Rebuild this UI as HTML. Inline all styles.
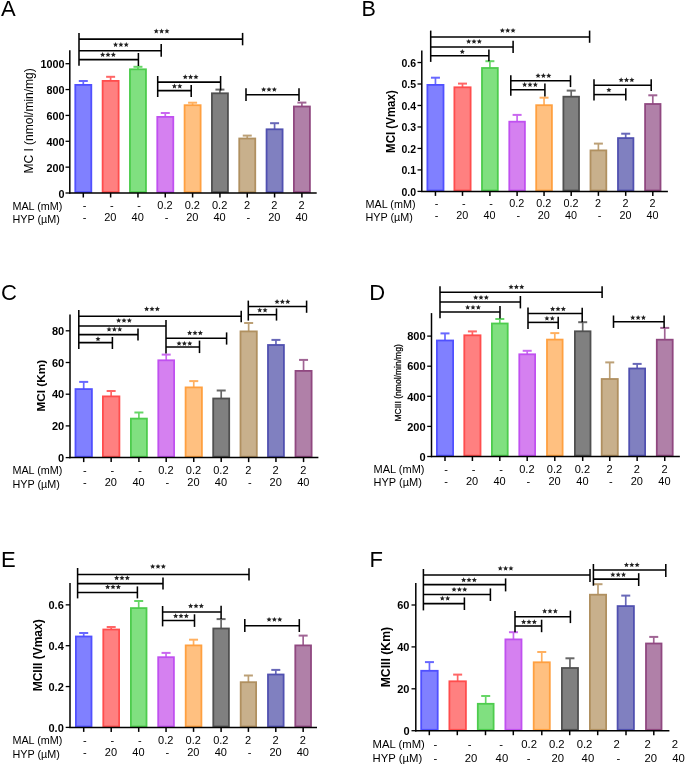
<!DOCTYPE html>
<html><head><meta charset="utf-8"><style>
html,body{margin:0;padding:0;background:#fff;width:685px;height:765px;overflow:hidden}
svg{display:block;filter:blur(0.3px)}
text{font-family:'Liberation Sans', sans-serif;fill:#000}
</style></head><body>
<svg width="685" height="765" viewBox="0 0 685 765">
<line x1="83.30" y1="81.00" x2="83.30" y2="85.00" stroke="#6868ff" stroke-width="1.7"/>
<line x1="78.80" y1="81.00" x2="87.80" y2="81.00" stroke="#6868ff" stroke-width="2.0"/>
<rect x="75.30" y="84.90" width="16.00" height="107.20" fill="#8080ff" stroke="#5050ff" stroke-width="1.8"/>
<line x1="110.62" y1="76.80" x2="110.62" y2="81.00" stroke="#ff6666" stroke-width="1.7"/>
<line x1="106.12" y1="76.80" x2="115.12" y2="76.80" stroke="#ff6666" stroke-width="2.0"/>
<rect x="102.63" y="80.90" width="16.00" height="111.20" fill="#ff8080" stroke="#ff4d4d" stroke-width="1.8"/>
<line x1="137.95" y1="66.80" x2="137.95" y2="69.40" stroke="#66d666" stroke-width="1.7"/>
<line x1="133.45" y1="66.80" x2="142.45" y2="66.80" stroke="#66d666" stroke-width="2.0"/>
<rect x="129.95" y="69.30" width="16.00" height="122.80" fill="#80e080" stroke="#4dcc4d" stroke-width="1.8"/>
<line x1="165.28" y1="113.00" x2="165.28" y2="117.00" stroke="#ca68f0" stroke-width="1.7"/>
<line x1="160.78" y1="113.00" x2="169.78" y2="113.00" stroke="#ca68f0" stroke-width="2.0"/>
<rect x="157.28" y="116.90" width="16.00" height="75.20" fill="#d580f0" stroke="#c050f0" stroke-width="1.8"/>
<line x1="192.60" y1="102.70" x2="192.60" y2="105.30" stroke="#ffb060" stroke-width="1.7"/>
<line x1="188.10" y1="102.70" x2="197.10" y2="102.70" stroke="#ffb060" stroke-width="2.0"/>
<rect x="184.60" y="105.20" width="16.00" height="86.90" fill="#ffc080" stroke="#ffa040" stroke-width="1.8"/>
<line x1="219.93" y1="89.60" x2="219.93" y2="93.40" stroke="#686868" stroke-width="1.7"/>
<line x1="215.43" y1="89.60" x2="224.43" y2="89.60" stroke="#686868" stroke-width="2.0"/>
<rect x="211.93" y="93.30" width="16.00" height="98.80" fill="#808080" stroke="#505050" stroke-width="1.8"/>
<line x1="247.25" y1="135.60" x2="247.25" y2="138.60" stroke="#bca076" stroke-width="1.7"/>
<line x1="242.75" y1="135.60" x2="251.75" y2="135.60" stroke="#bca076" stroke-width="2.0"/>
<rect x="239.25" y="138.50" width="16.00" height="53.60" fill="#c8b08c" stroke="#b09060" stroke-width="1.8"/>
<line x1="274.58" y1="123.20" x2="274.58" y2="129.40" stroke="#6868b8" stroke-width="1.7"/>
<line x1="270.08" y1="123.20" x2="279.08" y2="123.20" stroke="#6868b8" stroke-width="2.0"/>
<rect x="266.57" y="129.30" width="16.00" height="62.80" fill="#8080c0" stroke="#5050b0" stroke-width="1.8"/>
<line x1="301.90" y1="102.60" x2="301.90" y2="106.60" stroke="#a06494" stroke-width="1.7"/>
<line x1="297.40" y1="102.60" x2="306.40" y2="102.60" stroke="#a06494" stroke-width="2.0"/>
<rect x="293.90" y="106.50" width="16.00" height="85.60" fill="#b080a8" stroke="#904880" stroke-width="1.8"/>
<line x1="69.80" y1="50.20" x2="69.80" y2="193.70" stroke="#000" stroke-width="1.5"/>
<line x1="69.10" y1="193.00" x2="316.70" y2="193.00" stroke="#000" stroke-width="1.5"/>
<line x1="65.50" y1="193.00" x2="69.80" y2="193.00" stroke="#000" stroke-width="1.3"/>
<text x="64.60" y="197.50" font-size="10.8" text-anchor="end" font-weight="bold">0</text>
<line x1="65.50" y1="167.14" x2="69.80" y2="167.14" stroke="#000" stroke-width="1.3"/>
<text x="64.60" y="171.64" font-size="10.8" text-anchor="end" font-weight="bold">200</text>
<line x1="65.50" y1="141.28" x2="69.80" y2="141.28" stroke="#000" stroke-width="1.3"/>
<text x="64.60" y="145.78" font-size="10.8" text-anchor="end" font-weight="bold">400</text>
<line x1="65.50" y1="115.42" x2="69.80" y2="115.42" stroke="#000" stroke-width="1.3"/>
<text x="64.60" y="119.92" font-size="10.8" text-anchor="end" font-weight="bold">600</text>
<line x1="65.50" y1="89.56" x2="69.80" y2="89.56" stroke="#000" stroke-width="1.3"/>
<text x="64.60" y="94.06" font-size="10.8" text-anchor="end" font-weight="bold">800</text>
<line x1="65.50" y1="63.70" x2="69.80" y2="63.70" stroke="#000" stroke-width="1.3"/>
<text x="64.60" y="68.20" font-size="10.8" text-anchor="end" font-weight="bold">1000</text>
<line x1="83.30" y1="193.00" x2="83.30" y2="197.50" stroke="#000" stroke-width="1.5"/>
<line x1="110.62" y1="193.00" x2="110.62" y2="197.50" stroke="#000" stroke-width="1.5"/>
<line x1="137.95" y1="193.00" x2="137.95" y2="197.50" stroke="#000" stroke-width="1.5"/>
<line x1="165.28" y1="193.00" x2="165.28" y2="197.50" stroke="#000" stroke-width="1.5"/>
<line x1="192.60" y1="193.00" x2="192.60" y2="197.50" stroke="#000" stroke-width="1.5"/>
<line x1="219.93" y1="193.00" x2="219.93" y2="197.50" stroke="#000" stroke-width="1.5"/>
<line x1="247.25" y1="193.00" x2="247.25" y2="197.50" stroke="#000" stroke-width="1.5"/>
<line x1="274.58" y1="193.00" x2="274.58" y2="197.50" stroke="#000" stroke-width="1.5"/>
<line x1="301.90" y1="193.00" x2="301.90" y2="197.50" stroke="#000" stroke-width="1.5"/>
<line x1="79.00" y1="39.10" x2="242.60" y2="39.10" stroke="#000" stroke-width="1.55"/>
<line x1="242.60" y1="32.90" x2="242.60" y2="45.30" stroke="#000" stroke-width="1.55"/>
<polygon points="156.25,28.50 156.98,30.19 158.82,30.37 157.44,31.59 157.84,33.38 156.25,32.45 154.66,33.38 155.06,31.59 153.68,30.37 155.52,30.19" fill="#222"/>
<polygon points="161.60,28.50 162.33,30.19 164.17,30.37 162.79,31.59 163.19,33.38 161.60,32.45 160.01,33.38 160.41,31.59 159.03,30.37 160.87,30.19" fill="#222"/>
<polygon points="166.95,28.50 167.68,30.19 169.52,30.37 168.14,31.59 168.54,33.38 166.95,32.45 165.36,33.38 165.76,31.59 164.38,30.37 166.22,30.19" fill="#222"/>
<line x1="79.00" y1="50.70" x2="161.20" y2="50.70" stroke="#000" stroke-width="1.55"/>
<line x1="161.20" y1="44.10" x2="161.20" y2="56.80" stroke="#000" stroke-width="1.55"/>
<polygon points="115.55,42.00 116.28,43.69 118.12,43.87 116.74,45.09 117.14,46.88 115.55,45.95 113.96,46.88 114.36,45.09 112.98,43.87 114.82,43.69" fill="#222"/>
<polygon points="120.90,42.00 121.63,43.69 123.47,43.87 122.09,45.09 122.49,46.88 120.90,45.95 119.31,46.88 119.71,45.09 118.33,43.87 120.17,43.69" fill="#222"/>
<polygon points="126.25,42.00 126.98,43.69 128.82,43.87 127.44,45.09 127.84,46.88 126.25,45.95 124.66,46.88 125.06,45.09 123.68,43.87 125.52,43.69" fill="#222"/>
<line x1="79.00" y1="59.60" x2="138.40" y2="59.60" stroke="#000" stroke-width="1.55"/>
<line x1="138.40" y1="53.00" x2="138.40" y2="66.00" stroke="#000" stroke-width="1.55"/>
<polygon points="102.65,52.10 103.38,53.79 105.22,53.97 103.84,55.19 104.24,56.98 102.65,56.05 101.06,56.98 101.46,55.19 100.08,53.97 101.92,53.79" fill="#222"/>
<polygon points="108.00,52.10 108.73,53.79 110.57,53.97 109.19,55.19 109.59,56.98 108.00,56.05 106.41,56.98 106.81,55.19 105.43,53.97 107.27,53.79" fill="#222"/>
<polygon points="113.35,52.10 114.08,53.79 115.92,53.97 114.54,55.19 114.94,56.98 113.35,56.05 111.76,56.98 112.16,55.19 110.78,53.97 112.62,53.79" fill="#222"/>
<line x1="157.70" y1="82.10" x2="220.60" y2="82.10" stroke="#000" stroke-width="1.55"/>
<line x1="220.60" y1="76.00" x2="220.60" y2="90.50" stroke="#000" stroke-width="1.55"/>
<polygon points="185.25,74.30 185.98,75.99 187.82,76.17 186.44,77.39 186.84,79.18 185.25,78.25 183.66,79.18 184.06,77.39 182.68,76.17 184.52,75.99" fill="#222"/>
<polygon points="190.60,74.30 191.33,75.99 193.17,76.17 191.79,77.39 192.19,79.18 190.60,78.25 189.01,79.18 189.41,77.39 188.03,76.17 189.87,75.99" fill="#222"/>
<polygon points="195.95,74.30 196.68,75.99 198.52,76.17 197.14,77.39 197.54,79.18 195.95,78.25 194.36,79.18 194.76,77.39 193.38,76.17 195.22,75.99" fill="#222"/>
<line x1="157.70" y1="90.60" x2="191.20" y2="90.60" stroke="#000" stroke-width="1.55"/>
<line x1="191.20" y1="85.00" x2="191.20" y2="97.00" stroke="#000" stroke-width="1.55"/>
<polygon points="174.42,83.50 175.16,85.19 176.99,85.37 175.61,86.59 176.01,88.38 174.42,87.45 172.84,88.38 173.24,86.59 171.86,85.37 173.69,85.19" fill="#222"/>
<polygon points="179.77,83.50 180.51,85.19 182.34,85.37 180.96,86.59 181.36,88.38 179.77,87.45 178.19,88.38 178.59,86.59 177.21,85.37 179.04,85.19" fill="#222"/>
<line x1="246.00" y1="94.80" x2="299.00" y2="94.80" stroke="#000" stroke-width="1.55"/>
<line x1="299.00" y1="88.20" x2="299.00" y2="100.90" stroke="#000" stroke-width="1.55"/>
<polygon points="263.65,86.90 264.38,88.59 266.22,88.77 264.84,89.99 265.24,91.78 263.65,90.85 262.06,91.78 262.46,89.99 261.08,88.77 262.92,88.59" fill="#222"/>
<polygon points="269.00,86.90 269.73,88.59 271.57,88.77 270.19,89.99 270.59,91.78 269.00,90.85 267.41,91.78 267.81,89.99 266.43,88.77 268.27,88.59" fill="#222"/>
<polygon points="274.35,86.90 275.08,88.59 276.92,88.77 275.54,89.99 275.94,91.78 274.35,90.85 272.76,91.78 273.16,89.99 271.78,88.77 273.62,88.59" fill="#222"/>
<line x1="79.00" y1="33.10" x2="79.00" y2="65.70" stroke="#000" stroke-width="1.55"/>
<line x1="157.70" y1="76.00" x2="157.70" y2="97.00" stroke="#000" stroke-width="1.55"/>
<line x1="246.00" y1="88.20" x2="246.00" y2="100.90" stroke="#000" stroke-width="1.55"/>
<text transform="translate(32.80,120.90) rotate(-90) scale(0.985,1)" font-size="12.2" text-anchor="middle">MC I (nmol/min/mg)</text>
<text x="1.00" y="16.30" font-size="22" text-anchor="start">A</text>
<text x="12.40" y="210.00" font-size="10.8" text-anchor="start">MAL (mM)</text>
<text x="12.40" y="222.50" font-size="10.8" text-anchor="start">HYP (&#181;M)</text>
<text x="84.50" y="209.20" font-size="11" text-anchor="middle">-</text>
<text x="84.50" y="221.40" font-size="11" text-anchor="middle">-</text>
<text x="111.83" y="209.20" font-size="11" text-anchor="middle">-</text>
<text x="110.33" y="221.40" font-size="11" text-anchor="middle">20</text>
<text x="139.15" y="209.20" font-size="11" text-anchor="middle">-</text>
<text x="137.65" y="221.40" font-size="11" text-anchor="middle">40</text>
<text x="164.97" y="209.20" font-size="11" text-anchor="middle">0.2</text>
<text x="166.47" y="221.40" font-size="11" text-anchor="middle">-</text>
<text x="192.30" y="209.20" font-size="11" text-anchor="middle">0.2</text>
<text x="192.30" y="221.40" font-size="11" text-anchor="middle">20</text>
<text x="219.62" y="209.20" font-size="11" text-anchor="middle">0.2</text>
<text x="219.62" y="221.40" font-size="11" text-anchor="middle">40</text>
<text x="246.95" y="209.20" font-size="11" text-anchor="middle">2</text>
<text x="248.45" y="221.40" font-size="11" text-anchor="middle">-</text>
<text x="274.28" y="209.20" font-size="11" text-anchor="middle">2</text>
<text x="274.28" y="221.40" font-size="11" text-anchor="middle">20</text>
<text x="301.60" y="209.20" font-size="11" text-anchor="middle">2</text>
<text x="301.60" y="221.40" font-size="11" text-anchor="middle">40</text>
<line x1="435.45" y1="77.70" x2="435.45" y2="85.00" stroke="#6868ff" stroke-width="1.7"/>
<line x1="430.95" y1="77.70" x2="439.95" y2="77.70" stroke="#6868ff" stroke-width="2.0"/>
<rect x="427.40" y="84.90" width="16.10" height="105.60" fill="#8080ff" stroke="#5050ff" stroke-width="1.8"/>
<line x1="462.50" y1="83.60" x2="462.50" y2="87.40" stroke="#ff6666" stroke-width="1.7"/>
<line x1="458.00" y1="83.60" x2="467.00" y2="83.60" stroke="#ff6666" stroke-width="2.0"/>
<rect x="454.40" y="87.30" width="16.20" height="103.20" fill="#ff8080" stroke="#ff4d4d" stroke-width="1.8"/>
<line x1="489.90" y1="61.20" x2="489.90" y2="68.10" stroke="#66d666" stroke-width="1.7"/>
<line x1="485.40" y1="61.20" x2="494.40" y2="61.20" stroke="#66d666" stroke-width="2.0"/>
<rect x="482.00" y="68.00" width="15.80" height="122.50" fill="#80e080" stroke="#4dcc4d" stroke-width="1.8"/>
<line x1="517.10" y1="114.90" x2="517.10" y2="121.80" stroke="#ca68f0" stroke-width="1.7"/>
<line x1="512.60" y1="114.90" x2="521.60" y2="114.90" stroke="#ca68f0" stroke-width="2.0"/>
<rect x="509.30" y="121.70" width="15.60" height="68.80" fill="#d580f0" stroke="#c050f0" stroke-width="1.8"/>
<line x1="544.05" y1="97.70" x2="544.05" y2="105.30" stroke="#ffb060" stroke-width="1.7"/>
<line x1="539.55" y1="97.70" x2="548.55" y2="97.70" stroke="#ffb060" stroke-width="2.0"/>
<rect x="536.20" y="105.20" width="15.70" height="85.30" fill="#ffc080" stroke="#ffa040" stroke-width="1.8"/>
<line x1="571.20" y1="90.60" x2="571.20" y2="96.80" stroke="#686868" stroke-width="1.7"/>
<line x1="566.70" y1="90.60" x2="575.70" y2="90.60" stroke="#686868" stroke-width="2.0"/>
<rect x="563.40" y="96.70" width="15.60" height="93.80" fill="#808080" stroke="#505050" stroke-width="1.8"/>
<line x1="598.40" y1="143.60" x2="598.40" y2="150.50" stroke="#bca076" stroke-width="1.7"/>
<line x1="593.90" y1="143.60" x2="602.90" y2="143.60" stroke="#bca076" stroke-width="2.0"/>
<rect x="590.50" y="150.40" width="15.80" height="40.10" fill="#c8b08c" stroke="#b09060" stroke-width="1.8"/>
<line x1="625.70" y1="133.70" x2="625.70" y2="138.20" stroke="#6868b8" stroke-width="1.7"/>
<line x1="621.20" y1="133.70" x2="630.20" y2="133.70" stroke="#6868b8" stroke-width="2.0"/>
<rect x="618.00" y="138.10" width="15.40" height="52.40" fill="#8080c0" stroke="#5050b0" stroke-width="1.8"/>
<line x1="652.80" y1="95.30" x2="652.80" y2="104.10" stroke="#a06494" stroke-width="1.7"/>
<line x1="648.30" y1="95.30" x2="657.30" y2="95.30" stroke="#a06494" stroke-width="2.0"/>
<rect x="645.10" y="104.00" width="15.40" height="86.50" fill="#b080a8" stroke="#904880" stroke-width="1.8"/>
<line x1="421.80" y1="50.60" x2="421.80" y2="192.10" stroke="#000" stroke-width="1.5"/>
<line x1="421.10" y1="191.40" x2="667.90" y2="191.40" stroke="#000" stroke-width="1.5"/>
<line x1="417.50" y1="191.40" x2="421.80" y2="191.40" stroke="#000" stroke-width="1.3"/>
<text x="416.00" y="195.60" font-size="10.5" text-anchor="end" font-weight="bold">0.0</text>
<line x1="417.50" y1="169.92" x2="421.80" y2="169.92" stroke="#000" stroke-width="1.3"/>
<text x="416.00" y="174.12" font-size="10.5" text-anchor="end" font-weight="bold">0.1</text>
<line x1="417.50" y1="148.44" x2="421.80" y2="148.44" stroke="#000" stroke-width="1.3"/>
<text x="416.00" y="152.64" font-size="10.5" text-anchor="end" font-weight="bold">0.2</text>
<line x1="417.50" y1="126.96" x2="421.80" y2="126.96" stroke="#000" stroke-width="1.3"/>
<text x="416.00" y="131.16" font-size="10.5" text-anchor="end" font-weight="bold">0.3</text>
<line x1="417.50" y1="105.48" x2="421.80" y2="105.48" stroke="#000" stroke-width="1.3"/>
<text x="416.00" y="109.68" font-size="10.5" text-anchor="end" font-weight="bold">0.4</text>
<line x1="417.50" y1="84.00" x2="421.80" y2="84.00" stroke="#000" stroke-width="1.3"/>
<text x="416.00" y="88.20" font-size="10.5" text-anchor="end" font-weight="bold">0.5</text>
<line x1="417.50" y1="62.52" x2="421.80" y2="62.52" stroke="#000" stroke-width="1.3"/>
<text x="416.00" y="66.72" font-size="10.5" text-anchor="end" font-weight="bold">0.6</text>
<line x1="435.45" y1="191.40" x2="435.45" y2="195.90" stroke="#000" stroke-width="1.5"/>
<line x1="462.50" y1="191.40" x2="462.50" y2="195.90" stroke="#000" stroke-width="1.5"/>
<line x1="489.90" y1="191.40" x2="489.90" y2="195.90" stroke="#000" stroke-width="1.5"/>
<line x1="517.10" y1="191.40" x2="517.10" y2="195.90" stroke="#000" stroke-width="1.5"/>
<line x1="544.05" y1="191.40" x2="544.05" y2="195.90" stroke="#000" stroke-width="1.5"/>
<line x1="571.20" y1="191.40" x2="571.20" y2="195.90" stroke="#000" stroke-width="1.5"/>
<line x1="598.40" y1="191.40" x2="598.40" y2="195.90" stroke="#000" stroke-width="1.5"/>
<line x1="625.70" y1="191.40" x2="625.70" y2="195.90" stroke="#000" stroke-width="1.5"/>
<line x1="652.80" y1="191.40" x2="652.80" y2="195.90" stroke="#000" stroke-width="1.5"/>
<line x1="430.70" y1="37.00" x2="589.60" y2="37.00" stroke="#000" stroke-width="1.55"/>
<line x1="589.60" y1="30.60" x2="589.60" y2="42.80" stroke="#000" stroke-width="1.55"/>
<polygon points="502.35,27.90 503.08,29.59 504.92,29.77 503.54,30.99 503.94,32.78 502.35,31.85 500.76,32.78 501.16,30.99 499.78,29.77 501.62,29.59" fill="#222"/>
<polygon points="507.70,27.90 508.43,29.59 510.27,29.77 508.89,30.99 509.29,32.78 507.70,31.85 506.11,32.78 506.51,30.99 505.13,29.77 506.97,29.59" fill="#222"/>
<polygon points="513.05,27.90 513.78,29.59 515.62,29.77 514.24,30.99 514.64,32.78 513.05,31.85 511.46,32.78 511.86,30.99 510.48,29.77 512.32,29.59" fill="#222"/>
<line x1="430.70" y1="46.90" x2="513.10" y2="46.90" stroke="#000" stroke-width="1.55"/>
<line x1="513.10" y1="40.70" x2="513.10" y2="53.00" stroke="#000" stroke-width="1.55"/>
<polygon points="468.65,38.90 469.38,40.59 471.22,40.77 469.84,41.99 470.24,43.78 468.65,42.85 467.06,43.78 467.46,41.99 466.08,40.77 467.92,40.59" fill="#222"/>
<polygon points="474.00,38.90 474.73,40.59 476.57,40.77 475.19,41.99 475.59,43.78 474.00,42.85 472.41,43.78 472.81,41.99 471.43,40.77 473.27,40.59" fill="#222"/>
<polygon points="479.35,38.90 480.08,40.59 481.92,40.77 480.54,41.99 480.94,43.78 479.35,42.85 477.76,43.78 478.16,41.99 476.78,40.77 478.62,40.59" fill="#222"/>
<line x1="430.70" y1="55.70" x2="488.90" y2="55.70" stroke="#000" stroke-width="1.55"/>
<line x1="488.90" y1="49.40" x2="488.90" y2="61.20" stroke="#000" stroke-width="1.55"/>
<polygon points="462.30,49.10 463.03,50.79 464.87,50.97 463.49,52.19 463.89,53.98 462.30,53.05 460.71,53.98 461.11,52.19 459.73,50.97 461.57,50.79" fill="#222"/>
<line x1="510.80" y1="80.70" x2="570.50" y2="80.70" stroke="#000" stroke-width="1.55"/>
<line x1="570.50" y1="75.30" x2="570.50" y2="87.10" stroke="#000" stroke-width="1.55"/>
<polygon points="538.05,73.10 538.78,74.79 540.62,74.97 539.24,76.19 539.64,77.98 538.05,77.05 536.46,77.98 536.86,76.19 535.48,74.97 537.32,74.79" fill="#222"/>
<polygon points="543.40,73.10 544.13,74.79 545.97,74.97 544.59,76.19 544.99,77.98 543.40,77.05 541.81,77.98 542.21,76.19 540.83,74.97 542.67,74.79" fill="#222"/>
<polygon points="548.75,73.10 549.48,74.79 551.32,74.97 549.94,76.19 550.34,77.98 548.75,77.05 547.16,77.98 547.56,76.19 546.18,74.97 548.02,74.79" fill="#222"/>
<line x1="510.80" y1="89.70" x2="544.90" y2="89.70" stroke="#000" stroke-width="1.55"/>
<line x1="544.90" y1="83.60" x2="544.90" y2="96.50" stroke="#000" stroke-width="1.55"/>
<polygon points="524.65,82.00 525.38,83.69 527.22,83.87 525.84,85.09 526.24,86.88 524.65,85.95 523.06,86.88 523.46,85.09 522.08,83.87 523.92,83.69" fill="#222"/>
<polygon points="530.00,82.00 530.73,83.69 532.57,83.87 531.19,85.09 531.59,86.88 530.00,85.95 528.41,86.88 528.81,85.09 527.43,83.87 529.27,83.69" fill="#222"/>
<polygon points="535.35,82.00 536.08,83.69 537.92,83.87 536.54,85.09 536.94,86.88 535.35,85.95 533.76,86.88 534.16,85.09 532.78,83.87 534.62,83.69" fill="#222"/>
<line x1="594.00" y1="85.20" x2="651.20" y2="85.20" stroke="#000" stroke-width="1.55"/>
<line x1="651.20" y1="79.30" x2="651.20" y2="91.10" stroke="#000" stroke-width="1.55"/>
<polygon points="621.15,77.30 621.88,78.99 623.72,79.17 622.34,80.39 622.74,82.18 621.15,81.25 619.56,82.18 619.96,80.39 618.58,79.17 620.42,78.99" fill="#222"/>
<polygon points="626.50,77.30 627.23,78.99 629.07,79.17 627.69,80.39 628.09,82.18 626.50,81.25 624.91,82.18 625.31,80.39 623.93,79.17 625.77,78.99" fill="#222"/>
<polygon points="631.85,77.30 632.58,78.99 634.42,79.17 633.04,80.39 633.44,82.18 631.85,81.25 630.26,82.18 630.66,80.39 629.28,79.17 631.12,78.99" fill="#222"/>
<line x1="594.00" y1="94.60" x2="625.80" y2="94.60" stroke="#000" stroke-width="1.55"/>
<line x1="625.80" y1="88.30" x2="625.80" y2="100.50" stroke="#000" stroke-width="1.55"/>
<polygon points="608.90,87.40 609.63,89.09 611.47,89.27 610.09,90.49 610.49,92.28 608.90,91.35 607.31,92.28 607.71,90.49 606.33,89.27 608.17,89.09" fill="#222"/>
<line x1="430.70" y1="30.60" x2="430.70" y2="61.90" stroke="#000" stroke-width="1.55"/>
<line x1="510.80" y1="75.30" x2="510.80" y2="95.80" stroke="#000" stroke-width="1.55"/>
<line x1="594.00" y1="79.30" x2="594.00" y2="100.50" stroke="#000" stroke-width="1.55"/>
<text transform="translate(395.30,121.60) rotate(-90) scale(0.944,1)" font-size="12.2" text-anchor="middle" font-weight="bold">MCI (Vmax)</text>
<text x="361.40" y="15.80" font-size="21.5" text-anchor="start">B</text>
<text x="365.50" y="208.10" font-size="10.8" text-anchor="start">MAL (mM)</text>
<text x="365.50" y="220.90" font-size="10.8" text-anchor="start">HYP (&#181;M)</text>
<text x="436.65" y="206.70" font-size="10.8" text-anchor="middle">-</text>
<text x="436.65" y="218.70" font-size="10.8" text-anchor="middle">-</text>
<text x="463.70" y="206.70" font-size="10.8" text-anchor="middle">-</text>
<text x="462.20" y="218.70" font-size="10.8" text-anchor="middle">20</text>
<text x="491.10" y="206.70" font-size="10.8" text-anchor="middle">-</text>
<text x="489.60" y="218.70" font-size="10.8" text-anchor="middle">40</text>
<text x="516.80" y="206.70" font-size="10.8" text-anchor="middle">0.2</text>
<text x="518.30" y="218.70" font-size="10.8" text-anchor="middle">-</text>
<text x="543.75" y="206.70" font-size="10.8" text-anchor="middle">0.2</text>
<text x="543.75" y="218.70" font-size="10.8" text-anchor="middle">20</text>
<text x="570.90" y="206.70" font-size="10.8" text-anchor="middle">0.2</text>
<text x="570.90" y="218.70" font-size="10.8" text-anchor="middle">40</text>
<text x="598.10" y="206.70" font-size="10.8" text-anchor="middle">2</text>
<text x="599.60" y="218.70" font-size="10.8" text-anchor="middle">-</text>
<text x="625.40" y="206.70" font-size="10.8" text-anchor="middle">2</text>
<text x="625.40" y="218.70" font-size="10.8" text-anchor="middle">20</text>
<text x="652.50" y="206.70" font-size="10.8" text-anchor="middle">2</text>
<text x="652.50" y="218.70" font-size="10.8" text-anchor="middle">40</text>
<line x1="83.70" y1="381.90" x2="83.70" y2="389.20" stroke="#6868ff" stroke-width="1.7"/>
<line x1="79.20" y1="381.90" x2="88.20" y2="381.90" stroke="#6868ff" stroke-width="2.0"/>
<rect x="75.50" y="389.10" width="16.40" height="67.60" fill="#8080ff" stroke="#5050ff" stroke-width="1.8"/>
<line x1="111.15" y1="391.00" x2="111.15" y2="396.50" stroke="#ff6666" stroke-width="1.7"/>
<line x1="106.65" y1="391.00" x2="115.65" y2="391.00" stroke="#ff6666" stroke-width="2.0"/>
<rect x="102.90" y="396.40" width="16.50" height="60.30" fill="#ff8080" stroke="#ff4d4d" stroke-width="1.8"/>
<line x1="138.90" y1="412.50" x2="138.90" y2="418.70" stroke="#66d666" stroke-width="1.7"/>
<line x1="134.40" y1="412.50" x2="143.40" y2="412.50" stroke="#66d666" stroke-width="2.0"/>
<rect x="130.90" y="418.60" width="16.00" height="38.10" fill="#80e080" stroke="#4dcc4d" stroke-width="1.8"/>
<line x1="166.20" y1="354.60" x2="166.20" y2="360.40" stroke="#ca68f0" stroke-width="1.7"/>
<line x1="161.70" y1="354.60" x2="170.70" y2="354.60" stroke="#ca68f0" stroke-width="2.0"/>
<rect x="158.30" y="360.30" width="15.80" height="96.40" fill="#d580f0" stroke="#c050f0" stroke-width="1.8"/>
<line x1="193.75" y1="381.10" x2="193.75" y2="387.50" stroke="#ffb060" stroke-width="1.7"/>
<line x1="189.25" y1="381.10" x2="198.25" y2="381.10" stroke="#ffb060" stroke-width="2.0"/>
<rect x="185.60" y="387.40" width="16.30" height="69.30" fill="#ffc080" stroke="#ffa040" stroke-width="1.8"/>
<line x1="221.20" y1="390.50" x2="221.20" y2="398.60" stroke="#686868" stroke-width="1.7"/>
<line x1="216.70" y1="390.50" x2="225.70" y2="390.50" stroke="#686868" stroke-width="2.0"/>
<rect x="213.20" y="398.50" width="16.00" height="58.20" fill="#808080" stroke="#505050" stroke-width="1.8"/>
<line x1="248.65" y1="323.00" x2="248.65" y2="331.50" stroke="#bca076" stroke-width="1.7"/>
<line x1="244.15" y1="323.00" x2="253.15" y2="323.00" stroke="#bca076" stroke-width="2.0"/>
<rect x="240.50" y="331.40" width="16.30" height="125.30" fill="#c8b08c" stroke="#b09060" stroke-width="1.8"/>
<line x1="275.95" y1="339.90" x2="275.95" y2="345.10" stroke="#6868b8" stroke-width="1.7"/>
<line x1="271.45" y1="339.90" x2="280.45" y2="339.90" stroke="#6868b8" stroke-width="2.0"/>
<rect x="268.00" y="345.00" width="15.90" height="111.70" fill="#8080c0" stroke="#5050b0" stroke-width="1.8"/>
<line x1="303.55" y1="359.90" x2="303.55" y2="371.00" stroke="#a06494" stroke-width="1.7"/>
<line x1="299.05" y1="359.90" x2="308.05" y2="359.90" stroke="#a06494" stroke-width="2.0"/>
<rect x="295.50" y="370.90" width="16.10" height="85.80" fill="#b080a8" stroke="#904880" stroke-width="1.8"/>
<line x1="70.00" y1="314.40" x2="70.00" y2="458.30" stroke="#000" stroke-width="1.5"/>
<line x1="69.30" y1="457.60" x2="318.40" y2="457.60" stroke="#000" stroke-width="1.5"/>
<line x1="65.70" y1="457.60" x2="70.00" y2="457.60" stroke="#000" stroke-width="1.3"/>
<text x="64.20" y="461.80" font-size="11" text-anchor="end" font-weight="bold">0</text>
<line x1="65.70" y1="425.90" x2="70.00" y2="425.90" stroke="#000" stroke-width="1.3"/>
<text x="64.20" y="430.10" font-size="11" text-anchor="end" font-weight="bold">20</text>
<line x1="65.70" y1="394.20" x2="70.00" y2="394.20" stroke="#000" stroke-width="1.3"/>
<text x="64.20" y="398.40" font-size="11" text-anchor="end" font-weight="bold">40</text>
<line x1="65.70" y1="362.50" x2="70.00" y2="362.50" stroke="#000" stroke-width="1.3"/>
<text x="64.20" y="366.70" font-size="11" text-anchor="end" font-weight="bold">60</text>
<line x1="65.70" y1="330.80" x2="70.00" y2="330.80" stroke="#000" stroke-width="1.3"/>
<text x="64.20" y="335.00" font-size="11" text-anchor="end" font-weight="bold">80</text>
<line x1="83.70" y1="457.60" x2="83.70" y2="462.10" stroke="#000" stroke-width="1.5"/>
<line x1="111.15" y1="457.60" x2="111.15" y2="462.10" stroke="#000" stroke-width="1.5"/>
<line x1="138.90" y1="457.60" x2="138.90" y2="462.10" stroke="#000" stroke-width="1.5"/>
<line x1="166.20" y1="457.60" x2="166.20" y2="462.10" stroke="#000" stroke-width="1.5"/>
<line x1="193.75" y1="457.60" x2="193.75" y2="462.10" stroke="#000" stroke-width="1.5"/>
<line x1="221.20" y1="457.60" x2="221.20" y2="462.10" stroke="#000" stroke-width="1.5"/>
<line x1="248.65" y1="457.60" x2="248.65" y2="462.10" stroke="#000" stroke-width="1.5"/>
<line x1="275.95" y1="457.60" x2="275.95" y2="462.10" stroke="#000" stroke-width="1.5"/>
<line x1="303.55" y1="457.60" x2="303.55" y2="462.10" stroke="#000" stroke-width="1.5"/>
<line x1="78.80" y1="316.30" x2="241.20" y2="316.30" stroke="#000" stroke-width="1.55"/>
<line x1="241.20" y1="310.70" x2="241.20" y2="322.30" stroke="#000" stroke-width="1.55"/>
<polygon points="146.65,306.30 147.38,307.99 149.22,308.17 147.84,309.39 148.24,311.18 146.65,310.25 145.06,311.18 145.46,309.39 144.08,308.17 145.92,307.99" fill="#222"/>
<polygon points="152.00,306.30 152.73,307.99 154.57,308.17 153.19,309.39 153.59,311.18 152.00,310.25 150.41,311.18 150.81,309.39 149.43,308.17 151.27,307.99" fill="#222"/>
<polygon points="157.35,306.30 158.08,307.99 159.92,308.17 158.54,309.39 158.94,311.18 157.35,310.25 155.76,311.18 156.16,309.39 154.78,308.17 156.62,307.99" fill="#222"/>
<line x1="78.80" y1="326.00" x2="166.00" y2="326.00" stroke="#000" stroke-width="1.55"/>
<polygon points="118.65,317.90 119.38,319.59 121.22,319.77 119.84,320.99 120.24,322.78 118.65,321.85 117.06,322.78 117.46,320.99 116.08,319.77 117.92,319.59" fill="#222"/>
<polygon points="124.00,317.90 124.73,319.59 126.57,319.77 125.19,320.99 125.59,322.78 124.00,321.85 122.41,322.78 122.81,320.99 121.43,319.77 123.27,319.59" fill="#222"/>
<polygon points="129.35,317.90 130.08,319.59 131.92,319.77 130.54,320.99 130.94,322.78 129.35,321.85 127.76,322.78 128.16,320.99 126.78,319.77 128.62,319.59" fill="#222"/>
<line x1="78.80" y1="334.60" x2="138.00" y2="334.60" stroke="#000" stroke-width="1.55"/>
<line x1="138.00" y1="328.60" x2="138.00" y2="340.60" stroke="#000" stroke-width="1.55"/>
<polygon points="109.05,326.70 109.78,328.39 111.62,328.57 110.24,329.79 110.64,331.58 109.05,330.65 107.46,331.58 107.86,329.79 106.48,328.57 108.32,328.39" fill="#222"/>
<polygon points="114.40,326.70 115.13,328.39 116.97,328.57 115.59,329.79 115.99,331.58 114.40,330.65 112.81,331.58 113.21,329.79 111.83,328.57 113.67,328.39" fill="#222"/>
<polygon points="119.75,326.70 120.48,328.39 122.32,328.57 120.94,329.79 121.34,331.58 119.75,330.65 118.16,331.58 118.56,329.79 117.18,328.57 119.02,328.39" fill="#222"/>
<line x1="78.80" y1="342.60" x2="112.40" y2="342.60" stroke="#000" stroke-width="1.55"/>
<line x1="112.40" y1="337.00" x2="112.40" y2="349.00" stroke="#000" stroke-width="1.55"/>
<polygon points="98.00,336.30 98.73,337.99 100.57,338.17 99.19,339.39 99.59,341.18 98.00,340.25 96.41,341.18 96.81,339.39 95.43,338.17 97.27,337.99" fill="#222"/>
<line x1="166.00" y1="338.20" x2="226.60" y2="338.20" stroke="#000" stroke-width="1.55"/>
<line x1="226.60" y1="332.40" x2="226.60" y2="344.60" stroke="#000" stroke-width="1.55"/>
<polygon points="189.65,330.30 190.38,331.99 192.22,332.17 190.84,333.39 191.24,335.18 189.65,334.25 188.06,335.18 188.46,333.39 187.08,332.17 188.92,331.99" fill="#222"/>
<polygon points="195.00,330.30 195.73,331.99 197.57,332.17 196.19,333.39 196.59,335.18 195.00,334.25 193.41,335.18 193.81,333.39 192.43,332.17 194.27,331.99" fill="#222"/>
<polygon points="200.35,330.30 201.08,331.99 202.92,332.17 201.54,333.39 201.94,335.18 200.35,334.25 198.76,335.18 199.16,333.39 197.78,332.17 199.62,331.99" fill="#222"/>
<line x1="166.00" y1="347.00" x2="199.50" y2="347.00" stroke="#000" stroke-width="1.55"/>
<line x1="199.50" y1="340.60" x2="199.50" y2="353.10" stroke="#000" stroke-width="1.55"/>
<polygon points="179.05,340.90 179.78,342.59 181.62,342.77 180.24,343.99 180.64,345.78 179.05,344.85 177.46,345.78 177.86,343.99 176.48,342.77 178.32,342.59" fill="#222"/>
<polygon points="184.40,340.90 185.13,342.59 186.97,342.77 185.59,343.99 185.99,345.78 184.40,344.85 182.81,345.78 183.21,343.99 181.83,342.77 183.67,342.59" fill="#222"/>
<polygon points="189.75,340.90 190.48,342.59 192.32,342.77 190.94,343.99 191.34,345.78 189.75,344.85 188.16,345.78 188.56,343.99 187.18,342.77 189.02,342.59" fill="#222"/>
<line x1="248.30" y1="306.50" x2="306.60" y2="306.50" stroke="#000" stroke-width="1.55"/>
<line x1="306.60" y1="300.60" x2="306.60" y2="312.80" stroke="#000" stroke-width="1.55"/>
<polygon points="277.05,299.10 277.78,300.79 279.62,300.97 278.24,302.19 278.64,303.98 277.05,303.05 275.46,303.98 275.86,302.19 274.48,300.97 276.32,300.79" fill="#222"/>
<polygon points="282.40,299.10 283.13,300.79 284.97,300.97 283.59,302.19 283.99,303.98 282.40,303.05 280.81,303.98 281.21,302.19 279.83,300.97 281.67,300.79" fill="#222"/>
<polygon points="287.75,299.10 288.48,300.79 290.32,300.97 288.94,302.19 289.34,303.98 287.75,303.05 286.16,303.98 286.56,302.19 285.18,300.97 287.02,300.79" fill="#222"/>
<line x1="248.30" y1="314.70" x2="276.50" y2="314.70" stroke="#000" stroke-width="1.55"/>
<line x1="276.50" y1="308.40" x2="276.50" y2="320.60" stroke="#000" stroke-width="1.55"/>
<polygon points="259.72,307.50 260.46,309.19 262.29,309.37 260.91,310.59 261.31,312.38 259.72,311.45 258.14,312.38 258.54,310.59 257.16,309.37 258.99,309.19" fill="#222"/>
<polygon points="265.07,307.50 265.81,309.19 267.64,309.37 266.26,310.59 266.66,312.38 265.07,311.45 263.49,312.38 263.89,310.59 262.51,309.37 264.34,309.19" fill="#222"/>
<line x1="78.80" y1="310.00" x2="78.80" y2="349.00" stroke="#000" stroke-width="1.55"/>
<line x1="166.00" y1="320.00" x2="166.00" y2="353.50" stroke="#000" stroke-width="1.55"/>
<line x1="248.30" y1="300.60" x2="248.30" y2="320.60" stroke="#000" stroke-width="1.55"/>
<text transform="translate(44.70,385.70) rotate(-90)" font-size="11.8" text-anchor="middle" font-weight="bold">MCI (Km)</text>
<text x="1.00" y="300.30" font-size="22" text-anchor="start">C</text>
<text x="12.40" y="474.40" font-size="10.8" text-anchor="start">MAL (mM)</text>
<text x="12.40" y="487.60" font-size="10.8" text-anchor="start">HYP (&#181;M)</text>
<text x="84.90" y="473.60" font-size="11" text-anchor="middle">-</text>
<text x="84.90" y="485.80" font-size="11" text-anchor="middle">-</text>
<text x="112.35" y="473.60" font-size="11" text-anchor="middle">-</text>
<text x="110.85" y="485.80" font-size="11" text-anchor="middle">20</text>
<text x="140.10" y="473.60" font-size="11" text-anchor="middle">-</text>
<text x="138.60" y="485.80" font-size="11" text-anchor="middle">40</text>
<text x="165.90" y="473.60" font-size="11" text-anchor="middle">0.2</text>
<text x="167.40" y="485.80" font-size="11" text-anchor="middle">-</text>
<text x="193.45" y="473.60" font-size="11" text-anchor="middle">0.2</text>
<text x="193.45" y="485.80" font-size="11" text-anchor="middle">20</text>
<text x="220.90" y="473.60" font-size="11" text-anchor="middle">0.2</text>
<text x="220.90" y="485.80" font-size="11" text-anchor="middle">40</text>
<text x="248.35" y="473.60" font-size="11" text-anchor="middle">2</text>
<text x="249.85" y="485.80" font-size="11" text-anchor="middle">-</text>
<text x="275.65" y="473.60" font-size="11" text-anchor="middle">2</text>
<text x="275.65" y="485.80" font-size="11" text-anchor="middle">20</text>
<text x="303.25" y="473.60" font-size="11" text-anchor="middle">2</text>
<text x="303.25" y="485.80" font-size="11" text-anchor="middle">40</text>
<line x1="445.00" y1="333.40" x2="445.00" y2="340.60" stroke="#6868ff" stroke-width="1.7"/>
<line x1="440.50" y1="333.40" x2="449.50" y2="333.40" stroke="#6868ff" stroke-width="2.0"/>
<rect x="436.90" y="340.50" width="16.20" height="115.10" fill="#8080ff" stroke="#5050ff" stroke-width="1.8"/>
<line x1="472.40" y1="331.40" x2="472.40" y2="335.40" stroke="#ff6666" stroke-width="1.7"/>
<line x1="467.90" y1="331.40" x2="476.90" y2="331.40" stroke="#ff6666" stroke-width="2.0"/>
<rect x="464.30" y="335.30" width="16.20" height="120.30" fill="#ff8080" stroke="#ff4d4d" stroke-width="1.8"/>
<line x1="499.80" y1="319.00" x2="499.80" y2="323.60" stroke="#66d666" stroke-width="1.7"/>
<line x1="495.30" y1="319.00" x2="504.30" y2="319.00" stroke="#66d666" stroke-width="2.0"/>
<rect x="491.90" y="323.50" width="15.80" height="132.10" fill="#80e080" stroke="#4dcc4d" stroke-width="1.8"/>
<line x1="527.20" y1="350.80" x2="527.20" y2="354.40" stroke="#ca68f0" stroke-width="1.7"/>
<line x1="522.70" y1="350.80" x2="531.70" y2="350.80" stroke="#ca68f0" stroke-width="2.0"/>
<rect x="519.30" y="354.30" width="15.80" height="101.30" fill="#d580f0" stroke="#c050f0" stroke-width="1.8"/>
<line x1="554.80" y1="333.10" x2="554.80" y2="339.70" stroke="#ffb060" stroke-width="1.7"/>
<line x1="550.30" y1="333.10" x2="559.30" y2="333.10" stroke="#ffb060" stroke-width="2.0"/>
<rect x="547.00" y="339.60" width="15.60" height="116.00" fill="#ffc080" stroke="#ffa040" stroke-width="1.8"/>
<line x1="582.70" y1="322.20" x2="582.70" y2="331.40" stroke="#686868" stroke-width="1.7"/>
<line x1="578.20" y1="322.20" x2="587.20" y2="322.20" stroke="#686868" stroke-width="2.0"/>
<rect x="574.90" y="331.30" width="15.60" height="124.30" fill="#808080" stroke="#505050" stroke-width="1.8"/>
<line x1="609.75" y1="362.40" x2="609.75" y2="379.10" stroke="#bca076" stroke-width="1.7"/>
<line x1="605.25" y1="362.40" x2="614.25" y2="362.40" stroke="#bca076" stroke-width="2.0"/>
<rect x="601.70" y="379.00" width="16.10" height="76.60" fill="#c8b08c" stroke="#b09060" stroke-width="1.8"/>
<line x1="637.15" y1="363.90" x2="637.15" y2="368.60" stroke="#6868b8" stroke-width="1.7"/>
<line x1="632.65" y1="363.90" x2="641.65" y2="363.90" stroke="#6868b8" stroke-width="2.0"/>
<rect x="629.20" y="368.50" width="15.90" height="87.10" fill="#8080c0" stroke="#5050b0" stroke-width="1.8"/>
<line x1="664.75" y1="327.90" x2="664.75" y2="339.80" stroke="#a06494" stroke-width="1.7"/>
<line x1="660.25" y1="327.90" x2="669.25" y2="327.90" stroke="#a06494" stroke-width="2.0"/>
<rect x="656.80" y="339.70" width="15.90" height="115.90" fill="#b080a8" stroke="#904880" stroke-width="1.8"/>
<line x1="431.50" y1="313.10" x2="431.50" y2="457.20" stroke="#000" stroke-width="1.5"/>
<line x1="430.80" y1="456.50" x2="679.90" y2="456.50" stroke="#000" stroke-width="1.5"/>
<line x1="427.20" y1="456.50" x2="431.50" y2="456.50" stroke="#000" stroke-width="1.3"/>
<text x="425.50" y="460.70" font-size="11" text-anchor="end" font-weight="bold">0</text>
<line x1="427.20" y1="426.40" x2="431.50" y2="426.40" stroke="#000" stroke-width="1.3"/>
<text x="425.50" y="430.60" font-size="11" text-anchor="end" font-weight="bold">200</text>
<line x1="427.20" y1="396.30" x2="431.50" y2="396.30" stroke="#000" stroke-width="1.3"/>
<text x="425.50" y="400.50" font-size="11" text-anchor="end" font-weight="bold">400</text>
<line x1="427.20" y1="366.20" x2="431.50" y2="366.20" stroke="#000" stroke-width="1.3"/>
<text x="425.50" y="370.40" font-size="11" text-anchor="end" font-weight="bold">600</text>
<line x1="427.20" y1="336.10" x2="431.50" y2="336.10" stroke="#000" stroke-width="1.3"/>
<text x="425.50" y="340.30" font-size="11" text-anchor="end" font-weight="bold">800</text>
<line x1="445.00" y1="456.50" x2="445.00" y2="461.00" stroke="#000" stroke-width="1.5"/>
<line x1="472.40" y1="456.50" x2="472.40" y2="461.00" stroke="#000" stroke-width="1.5"/>
<line x1="499.80" y1="456.50" x2="499.80" y2="461.00" stroke="#000" stroke-width="1.5"/>
<line x1="527.20" y1="456.50" x2="527.20" y2="461.00" stroke="#000" stroke-width="1.5"/>
<line x1="554.80" y1="456.50" x2="554.80" y2="461.00" stroke="#000" stroke-width="1.5"/>
<line x1="582.70" y1="456.50" x2="582.70" y2="461.00" stroke="#000" stroke-width="1.5"/>
<line x1="609.75" y1="456.50" x2="609.75" y2="461.00" stroke="#000" stroke-width="1.5"/>
<line x1="637.15" y1="456.50" x2="637.15" y2="461.00" stroke="#000" stroke-width="1.5"/>
<line x1="664.75" y1="456.50" x2="664.75" y2="461.00" stroke="#000" stroke-width="1.5"/>
<line x1="440.00" y1="292.20" x2="602.10" y2="292.20" stroke="#000" stroke-width="1.55"/>
<line x1="602.10" y1="286.20" x2="602.10" y2="298.10" stroke="#000" stroke-width="1.55"/>
<polygon points="511.05,284.30 511.78,285.99 513.62,286.17 512.24,287.39 512.64,289.18 511.05,288.25 509.46,289.18 509.86,287.39 508.48,286.17 510.32,285.99" fill="#222"/>
<polygon points="516.40,284.30 517.13,285.99 518.97,286.17 517.59,287.39 517.99,289.18 516.40,288.25 514.81,289.18 515.21,287.39 513.83,286.17 515.67,285.99" fill="#222"/>
<polygon points="521.75,284.30 522.48,285.99 524.32,286.17 522.94,287.39 523.34,289.18 521.75,288.25 520.16,289.18 520.56,287.39 519.18,286.17 521.02,285.99" fill="#222"/>
<line x1="440.00" y1="302.00" x2="520.40" y2="302.00" stroke="#000" stroke-width="1.55"/>
<line x1="520.40" y1="296.00" x2="520.40" y2="308.40" stroke="#000" stroke-width="1.55"/>
<polygon points="475.65,294.90 476.38,296.59 478.22,296.77 476.84,297.99 477.24,299.78 475.65,298.85 474.06,299.78 474.46,297.99 473.08,296.77 474.92,296.59" fill="#222"/>
<polygon points="481.00,294.90 481.73,296.59 483.57,296.77 482.19,297.99 482.59,299.78 481.00,298.85 479.41,299.78 479.81,297.99 478.43,296.77 480.27,296.59" fill="#222"/>
<polygon points="486.35,294.90 487.08,296.59 488.92,296.77 487.54,297.99 487.94,299.78 486.35,298.85 484.76,299.78 485.16,297.99 483.78,296.77 485.62,296.59" fill="#222"/>
<line x1="440.00" y1="312.00" x2="500.00" y2="312.00" stroke="#000" stroke-width="1.55"/>
<line x1="500.00" y1="306.00" x2="500.00" y2="318.40" stroke="#000" stroke-width="1.55"/>
<polygon points="467.65,304.70 468.38,306.39 470.22,306.57 468.84,307.79 469.24,309.58 467.65,308.65 466.06,309.58 466.46,307.79 465.08,306.57 466.92,306.39" fill="#222"/>
<polygon points="473.00,304.70 473.73,306.39 475.57,306.57 474.19,307.79 474.59,309.58 473.00,308.65 471.41,309.58 471.81,307.79 470.43,306.57 472.27,306.39" fill="#222"/>
<polygon points="478.35,304.70 479.08,306.39 480.92,306.57 479.54,307.79 479.94,309.58 478.35,308.65 476.76,309.58 477.16,307.79 475.78,306.57 477.62,306.39" fill="#222"/>
<line x1="528.00" y1="313.50" x2="582.20" y2="313.50" stroke="#000" stroke-width="1.55"/>
<line x1="582.20" y1="307.80" x2="582.20" y2="322.20" stroke="#000" stroke-width="1.55"/>
<polygon points="552.65,306.30 553.38,307.99 555.22,308.17 553.84,309.39 554.24,311.18 552.65,310.25 551.06,311.18 551.46,309.39 550.08,308.17 551.92,307.99" fill="#222"/>
<polygon points="558.00,306.30 558.73,307.99 560.57,308.17 559.19,309.39 559.59,311.18 558.00,310.25 556.41,311.18 556.81,309.39 555.43,308.17 557.27,307.99" fill="#222"/>
<polygon points="563.35,306.30 564.08,307.99 565.92,308.17 564.54,309.39 564.94,311.18 563.35,310.25 561.76,311.18 562.16,309.39 560.78,308.17 562.62,307.99" fill="#222"/>
<line x1="528.00" y1="322.40" x2="558.20" y2="322.40" stroke="#000" stroke-width="1.55"/>
<line x1="558.20" y1="316.70" x2="558.20" y2="328.90" stroke="#000" stroke-width="1.55"/>
<polygon points="546.93,315.70 547.66,317.39 549.49,317.57 548.11,318.79 548.51,320.58 546.93,319.65 545.34,320.58 545.74,318.79 544.36,317.57 546.19,317.39" fill="#222"/>
<polygon points="552.28,315.70 553.01,317.39 554.84,317.57 553.46,318.79 553.86,320.58 552.28,319.65 550.69,320.58 551.09,318.79 549.71,317.57 551.54,317.39" fill="#222"/>
<line x1="613.50" y1="321.70" x2="664.10" y2="321.70" stroke="#000" stroke-width="1.55"/>
<line x1="664.10" y1="315.50" x2="664.10" y2="327.90" stroke="#000" stroke-width="1.55"/>
<polygon points="632.75,315.00 633.48,316.69 635.32,316.87 633.94,318.09 634.34,319.88 632.75,318.95 631.16,319.88 631.56,318.09 630.18,316.87 632.02,316.69" fill="#222"/>
<polygon points="638.10,315.00 638.83,316.69 640.67,316.87 639.29,318.09 639.69,319.88 638.10,318.95 636.51,319.88 636.91,318.09 635.53,316.87 637.37,316.69" fill="#222"/>
<polygon points="643.45,315.00 644.18,316.69 646.02,316.87 644.64,318.09 645.04,319.88 643.45,318.95 641.86,319.88 642.26,318.09 640.88,316.87 642.72,316.69" fill="#222"/>
<line x1="440.00" y1="286.20" x2="440.00" y2="318.20" stroke="#000" stroke-width="1.55"/>
<line x1="528.00" y1="307.60" x2="528.00" y2="329.00" stroke="#000" stroke-width="1.55"/>
<line x1="613.50" y1="315.50" x2="613.50" y2="327.90" stroke="#000" stroke-width="1.55"/>
<text transform="translate(401.40,382.90) rotate(-90) scale(0.93,1)" font-size="9.2" text-anchor="middle" stroke="#000" stroke-width="0.25">MCIII (nmol/min/mg)</text>
<text x="369.30" y="300.20" font-size="22" text-anchor="start">D</text>
<text x="373.60" y="473.00" font-size="11" text-anchor="start">MAL (mM)</text>
<text x="373.60" y="486.00" font-size="11" text-anchor="start">HYP (&#181;M)</text>
<text x="446.20" y="472.80" font-size="11" text-anchor="middle">-</text>
<text x="446.20" y="484.80" font-size="11" text-anchor="middle">-</text>
<text x="473.60" y="472.80" font-size="11" text-anchor="middle">-</text>
<text x="472.10" y="484.80" font-size="11" text-anchor="middle">20</text>
<text x="501.00" y="472.80" font-size="11" text-anchor="middle">-</text>
<text x="499.50" y="484.80" font-size="11" text-anchor="middle">40</text>
<text x="526.90" y="472.80" font-size="11" text-anchor="middle">0.2</text>
<text x="528.40" y="484.80" font-size="11" text-anchor="middle">-</text>
<text x="554.50" y="472.80" font-size="11" text-anchor="middle">0.2</text>
<text x="554.50" y="484.80" font-size="11" text-anchor="middle">20</text>
<text x="582.40" y="472.80" font-size="11" text-anchor="middle">0.2</text>
<text x="582.40" y="484.80" font-size="11" text-anchor="middle">40</text>
<text x="609.45" y="472.80" font-size="11" text-anchor="middle">2</text>
<text x="610.95" y="484.80" font-size="11" text-anchor="middle">-</text>
<text x="636.85" y="472.80" font-size="11" text-anchor="middle">2</text>
<text x="636.85" y="484.80" font-size="11" text-anchor="middle">20</text>
<text x="664.45" y="472.80" font-size="11" text-anchor="middle">2</text>
<text x="664.45" y="484.80" font-size="11" text-anchor="middle">40</text>
<line x1="83.70" y1="633.00" x2="83.70" y2="636.60" stroke="#6868ff" stroke-width="1.7"/>
<line x1="79.20" y1="633.00" x2="88.20" y2="633.00" stroke="#6868ff" stroke-width="2.0"/>
<rect x="75.90" y="636.50" width="15.60" height="90.00" fill="#8080ff" stroke="#5050ff" stroke-width="1.8"/>
<line x1="111.20" y1="627.00" x2="111.20" y2="629.60" stroke="#ff6666" stroke-width="1.7"/>
<line x1="106.70" y1="627.00" x2="115.70" y2="627.00" stroke="#ff6666" stroke-width="2.0"/>
<rect x="103.30" y="629.50" width="15.80" height="97.00" fill="#ff8080" stroke="#ff4d4d" stroke-width="1.8"/>
<line x1="138.70" y1="601.00" x2="138.70" y2="608.20" stroke="#66d666" stroke-width="1.7"/>
<line x1="134.20" y1="601.00" x2="143.20" y2="601.00" stroke="#66d666" stroke-width="2.0"/>
<rect x="130.90" y="608.10" width="15.60" height="118.40" fill="#80e080" stroke="#4dcc4d" stroke-width="1.8"/>
<line x1="166.05" y1="652.90" x2="166.05" y2="657.30" stroke="#ca68f0" stroke-width="1.7"/>
<line x1="161.55" y1="652.90" x2="170.55" y2="652.90" stroke="#ca68f0" stroke-width="2.0"/>
<rect x="158.20" y="657.20" width="15.70" height="69.30" fill="#d580f0" stroke="#c050f0" stroke-width="1.8"/>
<line x1="193.55" y1="639.70" x2="193.55" y2="645.50" stroke="#ffb060" stroke-width="1.7"/>
<line x1="189.05" y1="639.70" x2="198.05" y2="639.70" stroke="#ffb060" stroke-width="2.0"/>
<rect x="185.70" y="645.40" width="15.70" height="81.10" fill="#ffc080" stroke="#ffa040" stroke-width="1.8"/>
<line x1="221.10" y1="619.10" x2="221.10" y2="628.60" stroke="#686868" stroke-width="1.7"/>
<line x1="216.60" y1="619.10" x2="225.60" y2="619.10" stroke="#686868" stroke-width="2.0"/>
<rect x="213.30" y="628.50" width="15.60" height="98.00" fill="#808080" stroke="#505050" stroke-width="1.8"/>
<line x1="248.40" y1="675.50" x2="248.40" y2="682.30" stroke="#bca076" stroke-width="1.7"/>
<line x1="243.90" y1="675.50" x2="252.90" y2="675.50" stroke="#bca076" stroke-width="2.0"/>
<rect x="240.70" y="682.20" width="15.40" height="44.30" fill="#c8b08c" stroke="#b09060" stroke-width="1.8"/>
<line x1="275.80" y1="669.90" x2="275.80" y2="674.60" stroke="#6868b8" stroke-width="1.7"/>
<line x1="271.30" y1="669.90" x2="280.30" y2="669.90" stroke="#6868b8" stroke-width="2.0"/>
<rect x="268.00" y="674.50" width="15.60" height="52.00" fill="#8080c0" stroke="#5050b0" stroke-width="1.8"/>
<line x1="303.15" y1="635.60" x2="303.15" y2="645.50" stroke="#a06494" stroke-width="1.7"/>
<line x1="298.65" y1="635.60" x2="307.65" y2="635.60" stroke="#a06494" stroke-width="2.0"/>
<rect x="295.30" y="645.40" width="15.70" height="81.10" fill="#b080a8" stroke="#904880" stroke-width="1.8"/>
<line x1="70.00" y1="583.10" x2="70.00" y2="728.10" stroke="#000" stroke-width="1.5"/>
<line x1="69.30" y1="727.40" x2="317.00" y2="727.40" stroke="#000" stroke-width="1.5"/>
<line x1="65.70" y1="727.40" x2="70.00" y2="727.40" stroke="#000" stroke-width="1.3"/>
<text x="63.80" y="731.60" font-size="11" text-anchor="end" font-weight="bold">0.0</text>
<line x1="65.70" y1="686.55" x2="70.00" y2="686.55" stroke="#000" stroke-width="1.3"/>
<text x="63.80" y="690.75" font-size="11" text-anchor="end" font-weight="bold">0.2</text>
<line x1="65.70" y1="645.70" x2="70.00" y2="645.70" stroke="#000" stroke-width="1.3"/>
<text x="63.80" y="649.90" font-size="11" text-anchor="end" font-weight="bold">0.4</text>
<line x1="65.70" y1="604.85" x2="70.00" y2="604.85" stroke="#000" stroke-width="1.3"/>
<text x="63.80" y="609.05" font-size="11" text-anchor="end" font-weight="bold">0.6</text>
<line x1="83.70" y1="727.40" x2="83.70" y2="731.90" stroke="#000" stroke-width="1.5"/>
<line x1="111.20" y1="727.40" x2="111.20" y2="731.90" stroke="#000" stroke-width="1.5"/>
<line x1="138.70" y1="727.40" x2="138.70" y2="731.90" stroke="#000" stroke-width="1.5"/>
<line x1="166.05" y1="727.40" x2="166.05" y2="731.90" stroke="#000" stroke-width="1.5"/>
<line x1="193.55" y1="727.40" x2="193.55" y2="731.90" stroke="#000" stroke-width="1.5"/>
<line x1="221.10" y1="727.40" x2="221.10" y2="731.90" stroke="#000" stroke-width="1.5"/>
<line x1="248.40" y1="727.40" x2="248.40" y2="731.90" stroke="#000" stroke-width="1.5"/>
<line x1="275.80" y1="727.40" x2="275.80" y2="731.90" stroke="#000" stroke-width="1.5"/>
<line x1="303.15" y1="727.40" x2="303.15" y2="731.90" stroke="#000" stroke-width="1.5"/>
<line x1="77.60" y1="574.40" x2="249.00" y2="574.40" stroke="#000" stroke-width="1.55"/>
<line x1="249.00" y1="568.30" x2="249.00" y2="580.40" stroke="#000" stroke-width="1.55"/>
<polygon points="152.65,563.90 153.38,565.59 155.22,565.77 153.84,566.99 154.24,568.78 152.65,567.85 151.06,568.78 151.46,566.99 150.08,565.77 151.92,565.59" fill="#222"/>
<polygon points="158.00,563.90 158.73,565.59 160.57,565.77 159.19,566.99 159.59,568.78 158.00,567.85 156.41,568.78 156.81,566.99 155.43,565.77 157.27,565.59" fill="#222"/>
<polygon points="163.35,563.90 164.08,565.59 165.92,565.77 164.54,566.99 164.94,568.78 163.35,567.85 161.76,568.78 162.16,566.99 160.78,565.77 162.62,565.59" fill="#222"/>
<line x1="77.60" y1="583.60" x2="163.00" y2="583.60" stroke="#000" stroke-width="1.55"/>
<line x1="163.00" y1="577.60" x2="163.00" y2="589.60" stroke="#000" stroke-width="1.55"/>
<polygon points="116.65,575.30 117.38,576.99 119.22,577.17 117.84,578.39 118.24,580.18 116.65,579.25 115.06,580.18 115.46,578.39 114.08,577.17 115.92,576.99" fill="#222"/>
<polygon points="122.00,575.30 122.73,576.99 124.57,577.17 123.19,578.39 123.59,580.18 122.00,579.25 120.41,580.18 120.81,578.39 119.43,577.17 121.27,576.99" fill="#222"/>
<polygon points="127.35,575.30 128.08,576.99 129.92,577.17 128.54,578.39 128.94,580.18 127.35,579.25 125.76,580.18 126.16,578.39 124.78,577.17 126.62,576.99" fill="#222"/>
<line x1="77.60" y1="592.40" x2="137.40" y2="592.40" stroke="#000" stroke-width="1.55"/>
<line x1="137.40" y1="586.40" x2="137.40" y2="598.40" stroke="#000" stroke-width="1.55"/>
<polygon points="107.65,584.30 108.38,585.99 110.22,586.17 108.84,587.39 109.24,589.18 107.65,588.25 106.06,589.18 106.46,587.39 105.08,586.17 106.92,585.99" fill="#222"/>
<polygon points="113.00,584.30 113.73,585.99 115.57,586.17 114.19,587.39 114.59,589.18 113.00,588.25 111.41,589.18 111.81,587.39 110.43,586.17 112.27,585.99" fill="#222"/>
<polygon points="118.35,584.30 119.08,585.99 120.92,586.17 119.54,587.39 119.94,589.18 118.35,588.25 116.76,589.18 117.16,587.39 115.78,586.17 117.62,585.99" fill="#222"/>
<line x1="162.60" y1="611.90" x2="221.10" y2="611.90" stroke="#000" stroke-width="1.55"/>
<line x1="221.10" y1="605.80" x2="221.10" y2="619.10" stroke="#000" stroke-width="1.55"/>
<polygon points="190.65,603.30 191.38,604.99 193.22,605.17 191.84,606.39 192.24,608.18 190.65,607.25 189.06,608.18 189.46,606.39 188.08,605.17 189.92,604.99" fill="#222"/>
<polygon points="196.00,603.30 196.73,604.99 198.57,605.17 197.19,606.39 197.59,608.18 196.00,607.25 194.41,608.18 194.81,606.39 193.43,605.17 195.27,604.99" fill="#222"/>
<polygon points="201.35,603.30 202.08,604.99 203.92,605.17 202.54,606.39 202.94,608.18 201.35,607.25 199.76,608.18 200.16,606.39 198.78,605.17 200.62,604.99" fill="#222"/>
<line x1="162.60" y1="620.40" x2="194.50" y2="620.40" stroke="#000" stroke-width="1.55"/>
<line x1="194.50" y1="614.30" x2="194.50" y2="626.90" stroke="#000" stroke-width="1.55"/>
<polygon points="175.65,613.30 176.38,614.99 178.22,615.17 176.84,616.39 177.24,618.18 175.65,617.25 174.06,618.18 174.46,616.39 173.08,615.17 174.92,614.99" fill="#222"/>
<polygon points="181.00,613.30 181.73,614.99 183.57,615.17 182.19,616.39 182.59,618.18 181.00,617.25 179.41,618.18 179.81,616.39 178.43,615.17 180.27,614.99" fill="#222"/>
<polygon points="186.35,613.30 187.08,614.99 188.92,615.17 187.54,616.39 187.94,618.18 186.35,617.25 184.76,618.18 185.16,616.39 183.78,615.17 185.62,614.99" fill="#222"/>
<line x1="244.80" y1="625.70" x2="299.30" y2="625.70" stroke="#000" stroke-width="1.55"/>
<line x1="299.30" y1="619.10" x2="299.30" y2="632.00" stroke="#000" stroke-width="1.55"/>
<polygon points="269.05,616.90 269.78,618.59 271.62,618.77 270.24,619.99 270.64,621.78 269.05,620.85 267.46,621.78 267.86,619.99 266.48,618.77 268.32,618.59" fill="#222"/>
<polygon points="274.40,616.90 275.13,618.59 276.97,618.77 275.59,619.99 275.99,621.78 274.40,620.85 272.81,621.78 273.21,619.99 271.83,618.77 273.67,618.59" fill="#222"/>
<polygon points="279.75,616.90 280.48,618.59 282.32,618.77 280.94,619.99 281.34,621.78 279.75,620.85 278.16,621.78 278.56,619.99 277.18,618.77 279.02,618.59" fill="#222"/>
<line x1="77.60" y1="568.00" x2="77.60" y2="598.40" stroke="#000" stroke-width="1.55"/>
<line x1="162.60" y1="606.00" x2="162.60" y2="626.40" stroke="#000" stroke-width="1.55"/>
<line x1="244.80" y1="619.10" x2="244.80" y2="632.00" stroke="#000" stroke-width="1.55"/>
<text transform="translate(41.80,655.30) rotate(-90)" font-size="12.0" text-anchor="middle" font-weight="bold">MCIII (Vmax)</text>
<text x="1.10" y="566.80" font-size="22" text-anchor="start">E</text>
<text x="12.40" y="744.40" font-size="10.8" text-anchor="start">MAL (mM)</text>
<text x="12.40" y="757.60" font-size="10.8" text-anchor="start">HYP (&#181;M)</text>
<text x="84.90" y="743.90" font-size="11" text-anchor="middle">-</text>
<text x="84.90" y="756.00" font-size="11" text-anchor="middle">-</text>
<text x="112.40" y="743.90" font-size="11" text-anchor="middle">-</text>
<text x="110.90" y="756.00" font-size="11" text-anchor="middle">20</text>
<text x="139.90" y="743.90" font-size="11" text-anchor="middle">-</text>
<text x="138.40" y="756.00" font-size="11" text-anchor="middle">40</text>
<text x="165.75" y="743.90" font-size="11" text-anchor="middle">0.2</text>
<text x="167.25" y="756.00" font-size="11" text-anchor="middle">-</text>
<text x="193.25" y="743.90" font-size="11" text-anchor="middle">0.2</text>
<text x="193.25" y="756.00" font-size="11" text-anchor="middle">20</text>
<text x="220.80" y="743.90" font-size="11" text-anchor="middle">0.2</text>
<text x="220.80" y="756.00" font-size="11" text-anchor="middle">40</text>
<text x="248.10" y="743.90" font-size="11" text-anchor="middle">2</text>
<text x="249.60" y="756.00" font-size="11" text-anchor="middle">-</text>
<text x="275.50" y="743.90" font-size="11" text-anchor="middle">2</text>
<text x="275.50" y="756.00" font-size="11" text-anchor="middle">20</text>
<text x="302.85" y="743.90" font-size="11" text-anchor="middle">2</text>
<text x="302.85" y="756.00" font-size="11" text-anchor="middle">40</text>
<line x1="429.45" y1="662.10" x2="429.45" y2="670.90" stroke="#6868ff" stroke-width="1.7"/>
<line x1="424.95" y1="662.10" x2="433.95" y2="662.10" stroke="#6868ff" stroke-width="2.0"/>
<rect x="421.20" y="670.80" width="16.50" height="59.00" fill="#8080ff" stroke="#5050ff" stroke-width="1.8"/>
<line x1="457.65" y1="674.60" x2="457.65" y2="681.40" stroke="#ff6666" stroke-width="1.7"/>
<line x1="453.15" y1="674.60" x2="462.15" y2="674.60" stroke="#ff6666" stroke-width="2.0"/>
<rect x="449.40" y="681.30" width="16.50" height="48.50" fill="#ff8080" stroke="#ff4d4d" stroke-width="1.8"/>
<line x1="485.70" y1="696.00" x2="485.70" y2="703.90" stroke="#66d666" stroke-width="1.7"/>
<line x1="481.20" y1="696.00" x2="490.20" y2="696.00" stroke="#66d666" stroke-width="2.0"/>
<rect x="477.80" y="703.80" width="15.80" height="26.00" fill="#80e080" stroke="#4dcc4d" stroke-width="1.8"/>
<line x1="513.45" y1="632.20" x2="513.45" y2="639.50" stroke="#ca68f0" stroke-width="1.7"/>
<line x1="508.95" y1="632.20" x2="517.95" y2="632.20" stroke="#ca68f0" stroke-width="2.0"/>
<rect x="505.40" y="639.40" width="16.10" height="90.40" fill="#d580f0" stroke="#c050f0" stroke-width="1.8"/>
<line x1="541.75" y1="652.00" x2="541.75" y2="662.40" stroke="#ffb060" stroke-width="1.7"/>
<line x1="537.25" y1="652.00" x2="546.25" y2="652.00" stroke="#ffb060" stroke-width="2.0"/>
<rect x="533.70" y="662.30" width="16.10" height="67.50" fill="#ffc080" stroke="#ffa040" stroke-width="1.8"/>
<line x1="569.95" y1="658.30" x2="569.95" y2="668.10" stroke="#686868" stroke-width="1.7"/>
<line x1="565.45" y1="658.30" x2="574.45" y2="658.30" stroke="#686868" stroke-width="2.0"/>
<rect x="561.90" y="668.00" width="16.10" height="61.80" fill="#808080" stroke="#505050" stroke-width="1.8"/>
<line x1="598.00" y1="584.20" x2="598.00" y2="594.80" stroke="#bca076" stroke-width="1.7"/>
<line x1="593.50" y1="584.20" x2="602.50" y2="584.20" stroke="#bca076" stroke-width="2.0"/>
<rect x="589.90" y="594.70" width="16.20" height="135.10" fill="#c8b08c" stroke="#b09060" stroke-width="1.8"/>
<line x1="625.75" y1="595.60" x2="625.75" y2="606.20" stroke="#6868b8" stroke-width="1.7"/>
<line x1="621.25" y1="595.60" x2="630.25" y2="595.60" stroke="#6868b8" stroke-width="2.0"/>
<rect x="617.60" y="606.10" width="16.30" height="123.70" fill="#8080c0" stroke="#5050b0" stroke-width="1.8"/>
<line x1="653.75" y1="636.90" x2="653.75" y2="643.60" stroke="#a06494" stroke-width="1.7"/>
<line x1="649.25" y1="636.90" x2="658.25" y2="636.90" stroke="#a06494" stroke-width="2.0"/>
<rect x="646.00" y="643.50" width="15.50" height="86.30" fill="#b080a8" stroke="#904880" stroke-width="1.8"/>
<line x1="415.80" y1="583.10" x2="415.80" y2="731.40" stroke="#000" stroke-width="1.5"/>
<line x1="415.10" y1="730.70" x2="669.40" y2="730.70" stroke="#000" stroke-width="1.5"/>
<line x1="411.50" y1="730.70" x2="415.80" y2="730.70" stroke="#000" stroke-width="1.3"/>
<text x="409.50" y="734.90" font-size="11" text-anchor="end" font-weight="bold">0</text>
<line x1="411.50" y1="688.80" x2="415.80" y2="688.80" stroke="#000" stroke-width="1.3"/>
<text x="409.50" y="693.00" font-size="11" text-anchor="end" font-weight="bold">20</text>
<line x1="411.50" y1="646.90" x2="415.80" y2="646.90" stroke="#000" stroke-width="1.3"/>
<text x="409.50" y="651.10" font-size="11" text-anchor="end" font-weight="bold">40</text>
<line x1="411.50" y1="605.00" x2="415.80" y2="605.00" stroke="#000" stroke-width="1.3"/>
<text x="409.50" y="609.20" font-size="11" text-anchor="end" font-weight="bold">60</text>
<line x1="429.30" y1="730.70" x2="429.30" y2="735.20" stroke="#000" stroke-width="1.5"/>
<line x1="457.30" y1="730.70" x2="457.30" y2="735.20" stroke="#000" stroke-width="1.5"/>
<line x1="485.50" y1="730.70" x2="485.50" y2="735.20" stroke="#000" stroke-width="1.5"/>
<line x1="513.30" y1="730.70" x2="513.30" y2="735.20" stroke="#000" stroke-width="1.5"/>
<line x1="541.80" y1="730.70" x2="541.80" y2="735.20" stroke="#000" stroke-width="1.5"/>
<line x1="569.70" y1="730.70" x2="569.70" y2="735.20" stroke="#000" stroke-width="1.5"/>
<line x1="597.70" y1="730.70" x2="597.70" y2="735.20" stroke="#000" stroke-width="1.5"/>
<line x1="626.00" y1="730.70" x2="626.00" y2="735.20" stroke="#000" stroke-width="1.5"/>
<line x1="653.80" y1="730.70" x2="653.80" y2="735.20" stroke="#000" stroke-width="1.5"/>
<line x1="423.40" y1="575.00" x2="590.00" y2="575.00" stroke="#000" stroke-width="1.55"/>
<line x1="590.00" y1="568.90" x2="590.00" y2="582.00" stroke="#000" stroke-width="1.55"/>
<polygon points="500.25,565.70 500.98,567.39 502.82,567.57 501.44,568.79 501.84,570.58 500.25,569.65 498.66,570.58 499.06,568.79 497.68,567.57 499.52,567.39" fill="#222"/>
<polygon points="505.60,565.70 506.33,567.39 508.17,567.57 506.79,568.79 507.19,570.58 505.60,569.65 504.01,570.58 504.41,568.79 503.03,567.57 504.87,567.39" fill="#222"/>
<polygon points="510.95,565.70 511.68,567.39 513.52,567.57 512.14,568.79 512.54,570.58 510.95,569.65 509.36,570.58 509.76,568.79 508.38,567.57 510.22,567.39" fill="#222"/>
<line x1="423.40" y1="584.60" x2="505.60" y2="584.60" stroke="#000" stroke-width="1.55"/>
<line x1="505.60" y1="578.40" x2="505.60" y2="591.40" stroke="#000" stroke-width="1.55"/>
<polygon points="463.65,577.30 464.38,578.99 466.22,579.17 464.84,580.39 465.24,582.18 463.65,581.25 462.06,582.18 462.46,580.39 461.08,579.17 462.92,578.99" fill="#222"/>
<polygon points="469.00,577.30 469.73,578.99 471.57,579.17 470.19,580.39 470.59,582.18 469.00,581.25 467.41,582.18 467.81,580.39 466.43,579.17 468.27,578.99" fill="#222"/>
<polygon points="474.35,577.30 475.08,578.99 476.92,579.17 475.54,580.39 475.94,582.18 474.35,581.25 472.76,582.18 473.16,580.39 471.78,579.17 473.62,578.99" fill="#222"/>
<line x1="423.40" y1="594.40" x2="490.40" y2="594.40" stroke="#000" stroke-width="1.55"/>
<line x1="490.40" y1="588.40" x2="490.40" y2="601.00" stroke="#000" stroke-width="1.55"/>
<polygon points="454.05,586.90 454.78,588.59 456.62,588.77 455.24,589.99 455.64,591.78 454.05,590.85 452.46,591.78 452.86,589.99 451.48,588.77 453.32,588.59" fill="#222"/>
<polygon points="459.40,586.90 460.13,588.59 461.97,588.77 460.59,589.99 460.99,591.78 459.40,590.85 457.81,591.78 458.21,589.99 456.83,588.77 458.67,588.59" fill="#222"/>
<polygon points="464.75,586.90 465.48,588.59 467.32,588.77 465.94,589.99 466.34,591.78 464.75,590.85 463.16,591.78 463.56,589.99 462.18,588.77 464.02,588.59" fill="#222"/>
<line x1="423.40" y1="603.60" x2="464.40" y2="603.60" stroke="#000" stroke-width="1.55"/>
<line x1="464.40" y1="597.40" x2="464.40" y2="610.00" stroke="#000" stroke-width="1.55"/>
<polygon points="442.32,595.70 443.06,597.39 444.89,597.57 443.51,598.79 443.91,600.58 442.32,599.65 440.74,600.58 441.14,598.79 439.76,597.57 441.59,597.39" fill="#222"/>
<polygon points="447.68,595.70 448.41,597.39 450.24,597.57 448.86,598.79 449.26,600.58 447.68,599.65 446.09,600.58 446.49,598.79 445.11,597.57 446.94,597.39" fill="#222"/>
<line x1="515.00" y1="616.70" x2="570.40" y2="616.70" stroke="#000" stroke-width="1.55"/>
<line x1="570.40" y1="610.60" x2="570.40" y2="623.10" stroke="#000" stroke-width="1.55"/>
<polygon points="544.65,608.50 545.38,610.19 547.22,610.37 545.84,611.59 546.24,613.38 544.65,612.45 543.06,613.38 543.46,611.59 542.08,610.37 543.92,610.19" fill="#222"/>
<polygon points="550.00,608.50 550.73,610.19 552.57,610.37 551.19,611.59 551.59,613.38 550.00,612.45 548.41,613.38 548.81,611.59 547.43,610.37 549.27,610.19" fill="#222"/>
<polygon points="555.35,608.50 556.08,610.19 557.92,610.37 556.54,611.59 556.94,613.38 555.35,612.45 553.76,613.38 554.16,611.59 552.78,610.37 554.62,610.19" fill="#222"/>
<line x1="515.00" y1="626.00" x2="541.60" y2="626.00" stroke="#000" stroke-width="1.55"/>
<line x1="541.60" y1="619.70" x2="541.60" y2="632.20" stroke="#000" stroke-width="1.55"/>
<polygon points="523.65,619.30 524.38,620.99 526.22,621.17 524.84,622.39 525.24,624.18 523.65,623.25 522.06,624.18 522.46,622.39 521.08,621.17 522.92,620.99" fill="#222"/>
<polygon points="529.00,619.30 529.73,620.99 531.57,621.17 530.19,622.39 530.59,624.18 529.00,623.25 527.41,624.18 527.81,622.39 526.43,621.17 528.27,620.99" fill="#222"/>
<polygon points="534.35,619.30 535.08,620.99 536.92,621.17 535.54,622.39 535.94,624.18 534.35,623.25 532.76,624.18 533.16,622.39 531.78,621.17 533.62,620.99" fill="#222"/>
<line x1="593.40" y1="570.00" x2="665.80" y2="570.00" stroke="#000" stroke-width="1.55"/>
<line x1="665.80" y1="564.00" x2="665.80" y2="576.90" stroke="#000" stroke-width="1.55"/>
<polygon points="626.45,562.20 627.18,563.89 629.02,564.07 627.64,565.29 628.04,567.08 626.45,566.15 624.86,567.08 625.26,565.29 623.88,564.07 625.72,563.89" fill="#222"/>
<polygon points="631.80,562.20 632.53,563.89 634.37,564.07 632.99,565.29 633.39,567.08 631.80,566.15 630.21,567.08 630.61,565.29 629.23,564.07 631.07,563.89" fill="#222"/>
<polygon points="637.15,562.20 637.88,563.89 639.72,564.07 638.34,565.29 638.74,567.08 637.15,566.15 635.56,567.08 635.96,565.29 634.58,564.07 636.42,563.89" fill="#222"/>
<line x1="593.40" y1="579.10" x2="638.70" y2="579.10" stroke="#000" stroke-width="1.55"/>
<line x1="638.70" y1="573.20" x2="638.70" y2="586.00" stroke="#000" stroke-width="1.55"/>
<polygon points="612.85,572.00 613.58,573.69 615.42,573.87 614.04,575.09 614.44,576.88 612.85,575.95 611.26,576.88 611.66,575.09 610.28,573.87 612.12,573.69" fill="#222"/>
<polygon points="618.20,572.00 618.93,573.69 620.77,573.87 619.39,575.09 619.79,576.88 618.20,575.95 616.61,576.88 617.01,575.09 615.63,573.87 617.47,573.69" fill="#222"/>
<polygon points="623.55,572.00 624.28,573.69 626.12,573.87 624.74,575.09 625.14,576.88 623.55,575.95 621.96,576.88 622.36,575.09 620.98,573.87 622.82,573.69" fill="#222"/>
<line x1="423.40" y1="569.00" x2="423.40" y2="610.40" stroke="#000" stroke-width="1.55"/>
<line x1="515.00" y1="611.00" x2="515.00" y2="632.20" stroke="#000" stroke-width="1.55"/>
<line x1="593.40" y1="564.00" x2="593.40" y2="585.70" stroke="#000" stroke-width="1.55"/>
<text transform="translate(390.30,657.10) rotate(-90) scale(0.97,1)" font-size="12.6" text-anchor="middle" font-weight="bold">MCIII (Km)</text>
<text x="369.50" y="566.80" font-size="22" text-anchor="start">F</text>
<text x="372.60" y="748.40" font-size="11.3" text-anchor="start">MAL (mM)</text>
<text x="372.60" y="762.20" font-size="11.3" text-anchor="start">HYP (&#181;M)</text>
<text x="435.50" y="747.90" font-size="11.3" text-anchor="middle">-</text>
<text x="435.50" y="761.80" font-size="11.3" text-anchor="middle">-</text>
<text x="469.70" y="747.90" font-size="11.3" text-anchor="middle">-</text>
<text x="471.00" y="761.80" font-size="11.3" text-anchor="middle">20</text>
<text x="501.10" y="747.90" font-size="11.3" text-anchor="middle">-</text>
<text x="501.90" y="761.80" font-size="11.3" text-anchor="middle">40</text>
<text x="529.10" y="747.90" font-size="11.3" text-anchor="middle">0.2</text>
<text x="528.60" y="761.80" font-size="11.3" text-anchor="middle">-</text>
<text x="556.80" y="747.90" font-size="11.3" text-anchor="middle">0.2</text>
<text x="557.70" y="761.80" font-size="11.3" text-anchor="middle">20</text>
<text x="584.50" y="747.90" font-size="11.3" text-anchor="middle">0.2</text>
<text x="587.90" y="761.80" font-size="11.3" text-anchor="middle">40</text>
<text x="616.60" y="747.90" font-size="11.3" text-anchor="middle">2</text>
<text x="618.40" y="761.80" font-size="11.3" text-anchor="middle">-</text>
<text x="647.60" y="747.90" font-size="11.3" text-anchor="middle">2</text>
<text x="650.80" y="761.80" font-size="11.3" text-anchor="middle">20</text>
<text x="674.90" y="747.90" font-size="11.3" text-anchor="middle">2</text>
<text x="678.50" y="761.80" font-size="11.3" text-anchor="middle">40</text>
</svg></body></html>
